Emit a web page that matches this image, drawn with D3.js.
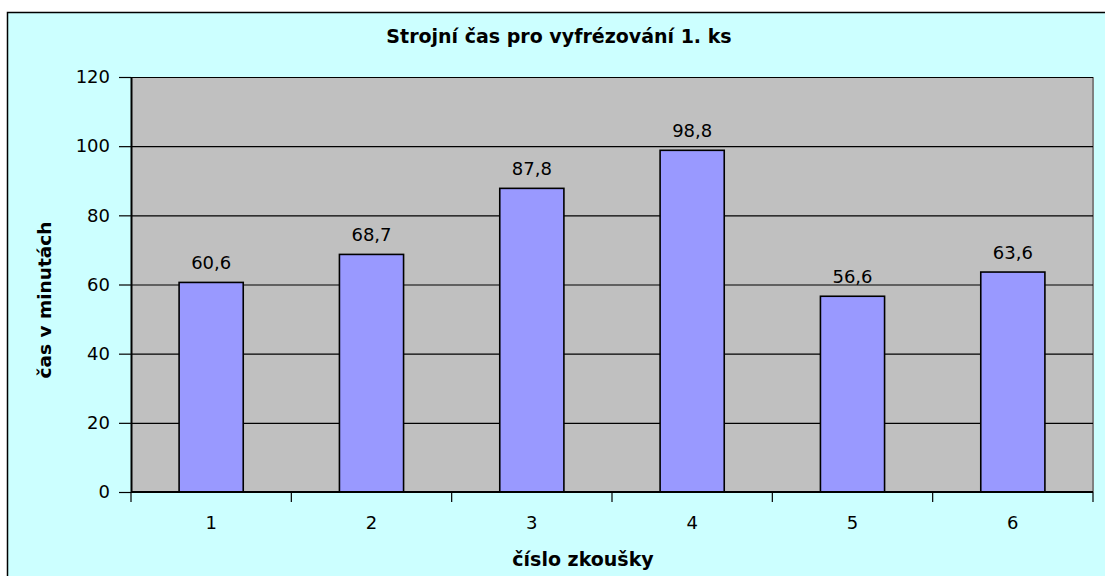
<!DOCTYPE html>
<html>
<head>
<meta charset="utf-8">
<script src="https://cdn.jsdelivr.net/npm/d3@7"></script>
<style>
  body { margin: 0; background: #ffffff; }
  svg { display: block; }
  text { font-family: "DejaVu Sans", Verdana, sans-serif; fill: #000; }
</style>
</head>
<body>
<div id="chart"></div>
<script>
// data
const categories = ["1", "2", "3", "4", "5", "6"];
const values = [60.6, 68.7, 87.8, 98.8, 56.6, 63.6];
const yTicks = [0, 20, 40, 60, 80, 100, 120];

const width = 1105, height = 576;
const plot = {left: 131, top: 77, right: 1093, bottom: 492};
const font = "'DejaVu Sans', Verdana, sans-serif";

const svg = d3.select("#chart").append("svg")
    .attr("width", width)
    .attr("height", height);

// chart area background and border (cut off at right and bottom)
svg.append("rect")
    .attr("x", 7.5).attr("y", 12.5)
    .attr("width", width).attr("height", height)
    .attr("fill", "#ccffff")
    .attr("stroke", "#000")
    .attr("stroke-width", 1.5);

const x = d3.scaleBand()
    .domain(categories)
    .range([plot.left, plot.right])
    .paddingInner(0.6)
    .paddingOuter(0.3);

const xBand = d3.scaleBand()
    .domain(categories)
    .range([plot.left, plot.right]);

const y = d3.scaleLinear()
    .domain([0, 120])
    .range([plot.bottom, plot.top]);

// plot area
svg.append("rect")
    .attr("x", plot.left).attr("y", plot.top)
    .attr("width", plot.right - plot.left)
    .attr("height", plot.bottom - plot.top)
    .attr("fill", "#c0c0c0");

svg.append("line")
    .attr("x1", plot.right).attr("x2", plot.right)
    .attr("y1", plot.top).attr("y2", plot.bottom)
    .attr("stroke", "#808080")
    .attr("stroke-width", 2);

// gridlines
svg.append("g")
    .selectAll("line")
    .data(yTicks.filter(d => d > 0))
    .join("line")
    .attr("x1", plot.left).attr("x2", plot.right)
    .attr("y1", d => y(d) + 0.5).attr("y2", d => y(d) + 0.5)
    .attr("stroke", "#000")
    .attr("stroke-width", 1.2);

// bars
svg.append("g")
    .selectAll("rect")
    .data(values)
    .join("rect")
    .attr("x", (d, i) => x(categories[i]))
    .attr("y", d => y(d))
    .attr("width", x.bandwidth())
    .attr("height", d => y(0) - y(d))
    .attr("fill", "#9999ff")
    .attr("stroke", "#000")
    .attr("stroke-width", 1.6);

// value labels
svg.append("g")
    .selectAll("text")
    .data(values)
    .join("text")
    .attr("x", (d, i) => x(categories[i]) + x.bandwidth() / 2)
    .attr("y", d => y(d) - 13)
    .attr("text-anchor", "middle")
    .style("font-size", "18px")
    .text(d => d3.format(".1f")(d).replace(".", ","));

// y axis
const yAxis = svg.append("g")
    .attr("transform", `translate(${plot.left},0)`)
    .call(d3.axisLeft(y).tickValues(yTicks).tickSize(12).tickPadding(9).tickSizeOuter(0));
yAxis.select(".domain").attr("stroke", "#000").attr("stroke-width", 2);
yAxis.selectAll(".tick line").attr("stroke", "#000").attr("stroke-width", 1.2);
yAxis.selectAll(".tick text")
    .style("font-size", "18px")
    .style("font-family", font);

// x axis, ticks between categories
const xAxis = svg.append("g")
    .attr("transform", `translate(0,${plot.bottom})`)
    .call(d3.axisBottom(xBand).tickSize(0).tickPadding(24));
xAxis.select(".domain").remove();
xAxis.selectAll(".tick text")
    .style("font-size", "18px")
    .style("font-family", font);

svg.append("line")
    .attr("x1", plot.left).attr("x2", plot.right)
    .attr("y1", plot.bottom).attr("y2", plot.bottom)
    .attr("stroke", "#000")
    .attr("stroke-width", 2);

const xBounds = categories.map(c => xBand(c)).concat([plot.right]);
svg.append("g")
    .selectAll("line")
    .data(xBounds)
    .join("line")
    .attr("x1", d => d).attr("x2", d => d)
    .attr("y1", plot.bottom).attr("y2", plot.bottom + 10)
    .attr("stroke", "#000")
    .attr("stroke-width", 1.2);

// titles
svg.append("text")
    .attr("x", 559).attr("y", 43)
    .attr("text-anchor", "middle")
    .style("font-size", "19px")
    .style("font-weight", "bold")
    .text("Strojní čas pro vyfrézování 1. ks");

svg.append("text")
    .attr("x", 583).attr("y", 566)
    .attr("text-anchor", "middle")
    .style("font-size", "19px")
    .style("font-weight", "bold")
    .text("číslo zkoušky");

svg.append("text")
    .attr("transform", "translate(51,300) rotate(-90)")
    .attr("text-anchor", "middle")
    .style("font-size", "18.5px")
    .style("font-weight", "bold")
    .text("čas v minutách");
</script>
</body>
</html>
